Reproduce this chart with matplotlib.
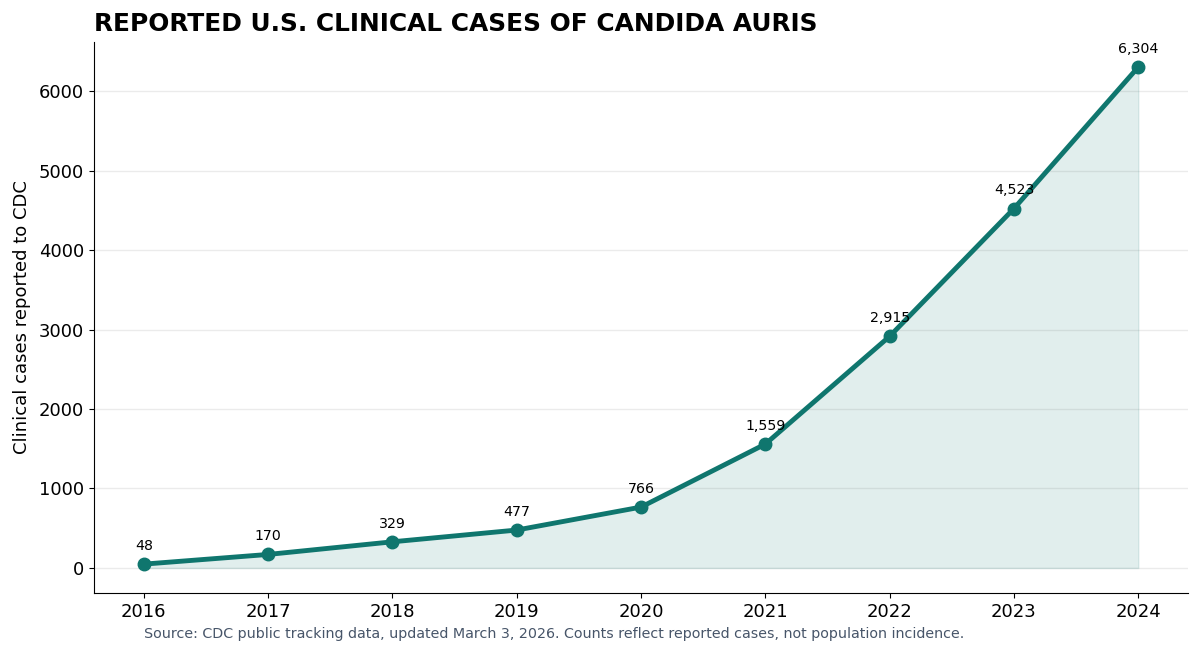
import matplotlib
matplotlib.use("Agg")
import matplotlib.pyplot as plt

years = [2016, 2017, 2018, 2019, 2020, 2021, 2022, 2023, 2024]
cases = [48, 170, 329, 477, 766, 1559, 2915, 4523, 6304]
title = "REPORTED U.S. CLINICAL CASES OF CANDIDA AURIS"
ylabel = "Clinical cases reported to CDC"
source = "Source: CDC public tracking data, updated March 3, 2026. Counts reflect reported cases, not population incidence."

color = "#0F766E"

fig = plt.figure(figsize=(12, 6.54), dpi=100)
ax = fig.add_axes([94/1200, 1-593/654, (1188-94)/1200, (593-42)/654])

ax.fill_between(years, cases, 0, color=color, alpha=0.12)
ax.plot(years, cases, color=color, lw=3.5, marker="o", ms=9, zorder=3)
for x, y in zip(years, cases):
    ax.annotate(f"{y:,}", (x, y), xytext=(0, 8), textcoords="offset points",
                ha="center", va="bottom", fontsize=10.2)

m = max(cases)
ax.set_ylim(-0.05*m, 1.05*m)
ax.set_xticks(years)
ax.tick_params(labelsize=13)
ax.set_ylabel(ylabel, fontsize=13, labelpad=6)
ax.grid(axis="y", color="#ebebeb", lw=1)
ax.set_axisbelow(True)
for s in ["top", "right"]:
    ax.spines[s].set_visible(False)
ax.set_title(title, loc="left", fontsize=17.9, fontweight="bold", pad=8)
fig.text(144/1200, 1-634/654, source, fontsize=10.25, color="#475569", va="center", ha="left")

fig.savefig("out.png", dpi=100)
